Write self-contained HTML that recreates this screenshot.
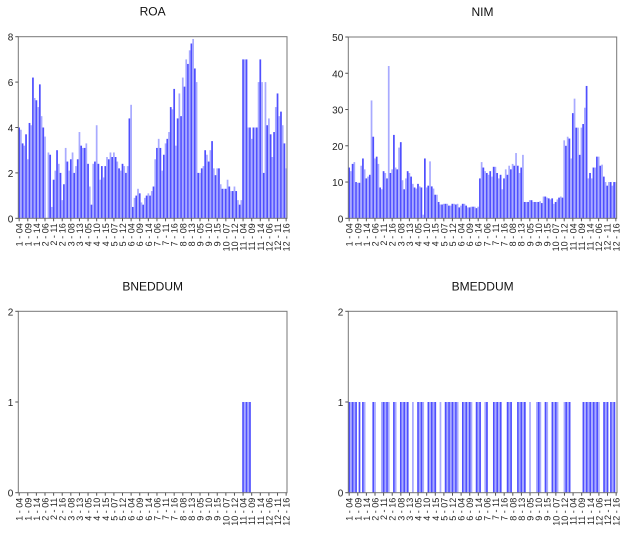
<!DOCTYPE html>
<html><head><meta charset="utf-8"><style>
body{margin:0;background:#fff;}
svg{display:block;font-family:"Liberation Sans",Arial,sans-serif;}
</style></head><body>
<svg id="s" width="627" height="540" viewBox="0 0 627 540" xmlns="http://www.w3.org/2000/svg"></svg>
<script>
const roa=[4,3.9,3.3,3.2,3.7,2.6,4.2,4.1,6.2,5.3,5.2,4.9,5.9,
4.5,4.0,3.6,0,2.9,2.8,0.5,1.7,2.1,3.0,2.4,2.0,0.8,
1.5,3.1,2.5,2.1,2.6,2.9,2.0,2.3,2.6,3.8,3.2,3.1,3.1,
3.3,2.4,1.4,0.6,2.4,2.5,4.1,2.4,1.7,2.3,1.8,2.3,2.7,
2.6,2.9,2.7,2.9,2.7,2.5,2.2,2.1,2.4,2.3,2.0,2.3,4.4,
5.0,0.5,0.9,1.0,1.3,1.1,0.7,0.6,0.9,1.0,1.1,1.0,1.2,
1.4,2.6,3.1,3.5,3.1,2.1,2.8,3.3,3.5,3.8,4.9,4.8,5.7,
3.2,4.4,5.5,4.5,6.2,5.8,7.0,6.8,7.4,7.7,7.9,6.6,6.0,
2.0,2.0,2.2,2.3,3.0,2.8,2.5,3.0,3.4,2.2,1.9,2.2,2.2,
1.5,1.3,1.3,1.3,1.7,1.4,1.2,1.2,1.4,1.2,0.8,0.6,0.8,
7,7,7,4,4,3.5,4,4,4,6,7,6,2,
6,4.1,4.4,3.7,2.7,3.8,4.9,5.5,4.5,4.7,4.1,3.3,2.2,3.1];
const nim=[14,13,15,15.5,10,9.8,9.8,14.5,16.5,13.5,11,11.5,12,
32.5,22.5,16.5,17,15,8.5,8,13,12.5,11,42,12.5,13.5,
23,14,13.5,19.5,21,10.5,8,11,13,12.5,11.5,9.5,8.5,
8.2,9.5,8.8,8.5,1,16.5,8.5,9,15.7,8.8,8.2,6.5,6.5,
4.5,3.8,3.8,4,4,4,3.5,3.5,4,4,3.8,4,3,
3.5,4,4,3.5,3,3,3.2,3.2,3.2,2.8,3.2,11,15.5,
14,13,12.5,12,13,11.5,14.2,14.2,12.5,11,12,8,11,
13.5,12,14.5,13.5,15,14.5,18,14.5,12.5,14,17.5,4.5,4.5,
4.5,5,5,4.5,4.5,4.5,4.5,4.7,4.2,6,6,5.7,5.5,
5.2,5.5,4,4.5,5.2,5.7,6,5.7,21.5,20,22.5,22,16.5,
29,33,25,25,17.5,25,26,30.5,36.5,11,12.5,11,14,
14,17,17,14.5,14.8,11.5,10,9,10,10,9,10,10];
const N=156;
const bn=new Array(N).fill(0);for(let i=130;i<=134;i++)bn[i]=1;
const bm=new Array(N).fill(0);
[[0,4],[6,6],[8,9],[14,15],[19,23],[26,27],[30,34],[37,37],[40,43],[46,50],[53,53],[56,60],[61,63],[66,71],[74,76],[79,80],[84,88],[92,94],[98,102],[105,105],[109,111],[114,115],[118,121],[125,128],[136,145],[148,150],[152,154]].forEach(([a,b])=>{for(let i=a;i<=b;i++)bm[i]=1;});
let h='';
function chart(title,data,L,R,T,B,max,ticks){
 const w=(R-L)/N;
 h+=`<text x="${(L+R)/2}" y="${T-21}" font-size="12" text-anchor="middle" fill="#111">${title}</text>`;
 for(let i=0;i<N;i++){const v=data[i];if(v<=0)continue;const y=B-(v/max)*(B-T);
  h+=`<rect x="${(L+i*w).toFixed(2)}" y="${y.toFixed(2)}" width="${w.toFixed(2)}" height="${(B-y).toFixed(2)}" fill="${i%2?'#a8aaff':'#4f4fff'}"/>`;}
 h+=`<rect x="${L}" y="${T}" width="${R-L}" height="${B-T}" fill="none" stroke="#777" stroke-width="1"/>`;
 ticks.forEach(t=>{const y=B-(t/max)*(B-T);h+=`<line x1="${L-3}" x2="${L}" y1="${y}" y2="${y}" stroke="#555"/><text x="${L-5}" y="${y+4}" font-size="10" text-anchor="end" fill="#222">${t}</text>`;});
 for(let i=0;i<N;i+=5){const x=L+(i+0.5)*w;const lab=(Math.floor(i/13)+1)+' - '+String(4+i%13).padStart(2,'0');
  h+=`<line x1="${x}" x2="${x}" y1="${B}" y2="${B+3}" stroke="#555"/><text transform="translate(${x+3.5},${B+5}) rotate(-90)" font-size="9" text-anchor="end" fill="#222">${lab}</text>`;}
}
chart('ROA',roa,18.3,287,36.7,218.3,8,[0,2,4,6,8]);
chart('NIM',nim,348.3,616.7,37,218.3,50,[0,10,20,30,40,50]);
chart('BNEDDUM',bn,18.3,287,311.3,492.7,2,[0,1,2]);
chart('BMEDDUM',bm,348.3,617,311.3,492.7,2,[0,1,2]);
document.getElementById('s').innerHTML=h;
</script>
</body></html>
